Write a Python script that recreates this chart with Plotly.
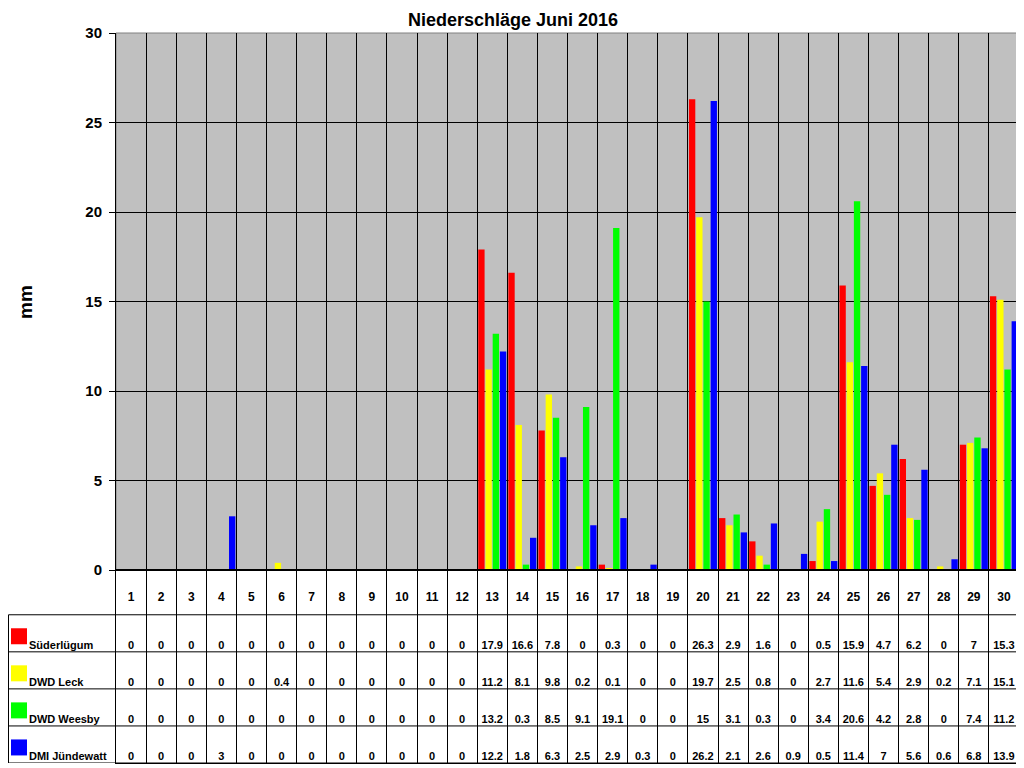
import plotly.graph_objects as go

days = [str(d) for d in range(1, 31)]

stations = ["Süderlügum", "DWD Leck", "DWD Weesby", "DMI Jündewatt"]
colors = ["#FF0000", "#FFFF00", "#00FF00", "#0000FF"]

suederluegum = [0, 0, 0, 0, 0, 0, 0, 0, 0, 0, 0, 0, 17.9, 16.6, 7.8, 0, 0.3, 0, 0, 26.3,
                2.9, 1.6, 0, 0.5, 15.9, 4.7, 6.2, 0, 7, 15.3]
leck = [0, 0, 0, 0, 0, 0.4, 0, 0, 0, 0, 0, 0, 11.2, 8.1, 9.8, 0.2, 0.1, 0, 0, 19.7,
        2.5, 0.8, 0, 2.7, 11.6, 5.4, 2.9, 0.2, 7.1, 15.1]
weesby = [0, 0, 0, 0, 0, 0, 0, 0, 0, 0, 0, 0, 13.2, 0.3, 8.5, 9.1, 19.1, 0, 0, 15,
          3.1, 0.3, 0, 3.4, 20.6, 4.2, 2.8, 0, 7.4, 11.2]
juendewatt = [0, 0, 0, 3, 0, 0, 0, 0, 0, 0, 0, 0, 12.2, 1.8, 6.3, 2.5, 2.9, 0.3, 0, 26.2,
              2.1, 2.6, 0.9, 0.5, 11.4, 7, 5.6, 0.6, 6.8, 13.9]

series = [suederluegum, leck, weesby, juendewatt]

# the page body has an 8px margin, so the figure is drawn at (8, 8)
OFF = 8
W, H = 1024 - OFF, 768 - OFF
FONT = "Liberation Sans, Arial, sans-serif"


def px(x):
    return (x - OFF) / W


def py(y):
    return 1 - (y - OFF) / H


fig = go.Figure()

# bars
for name, color, vals in zip(stations, colors, series):
    fig.add_trace(go.Bar(x=days, y=vals, name=name, marker=dict(color=color, line=dict(width=0)),
                         xaxis="x", yaxis="y", showlegend=False))

# data table below the chart
row_h = 37.0
header_h = 44.7
top_row = len(stations)
fig.add_trace(go.Scatter(x=days, y=[top_row + 0.45] * len(days), text=days,
                         mode="text", textfont=dict(family=FONT, size=12, color="black", weight="bold"),
                         xaxis="x2", yaxis="y2", showlegend=False, hoverinfo="skip"))
for i, (name, color, vals) in enumerate(zip(stations, colors, series)):
    row = top_row - 1 - i
    fig.add_trace(go.Scatter(x=days, y=[row + 0.15] * len(days), text=[f"{v:g}" for v in vals],
                             mode="text", textfont=dict(family=FONT, size=11, color="black", weight="bold"),
                             xaxis="x2", yaxis="y2", showlegend=False, hoverinfo="skip"))
    # legend key in the left column
    fig.add_trace(go.Scatter(x=[19], y=[row + 0.42], mode="markers",
                             marker=dict(symbol="square", size=16, color=color, line=dict(width=0)),
                             xaxis="x3", yaxis="y2", showlegend=False, hoverinfo="skip"))
    fig.add_trace(go.Scatter(x=[29], y=[row + 0.15], text=[name], mode="text", textposition="middle right",
                             textfont=dict(family=FONT, size=11, color="black", weight="bold"),
                             xaxis="x3", yaxis="y2", showlegend=False, hoverinfo="skip"))

shapes = [
    dict(type="rect", xref="x domain", yref="y domain", x0=0, x1=1, y0=0, y1=1,
         fillcolor="#C0C0C0", line=dict(color="#808080", width=1), layer="below"),
]
for k in range(top_row + 1):
    shapes.append(dict(type="line", xref="paper", yref="y2", x0=px(8.5), x1=px(1019), y0=k, y1=k,
                       line=dict(color="black", width=1)))
shapes.append(dict(type="line", xref="paper", yref="y2", x0=px(8.5), x1=px(8.5), y0=0, y1=top_row,
                   line=dict(color="black", width=1)))

xrange = [-0.5, len(days) - 0.5]

fig.update_layout(
    width=W, height=H,
    margin=dict(l=0, r=0, t=0, b=0, autoexpand=False),
    paper_bgcolor="white", plot_bgcolor="rgba(0,0,0,0)",
    barmode="group", bargap=0.04, bargroupgap=0.12,
    font=dict(family=FONT, color="black"),
    title=dict(text="Niederschläge Juni 2016", x=px(513), y=py(20), xanchor="center", yanchor="middle",
               font=dict(family=FONT, size=18, color="black", weight="bold")),
    xaxis=dict(type="category", domain=[px(116), px(1019)], anchor="y", tickson="boundaries",
               range=xrange, showgrid=True, gridcolor="black", gridwidth=1, showticklabels=False,
               ticks="", showline=True, linecolor="black", linewidth=1, automargin=False),
    yaxis=dict(domain=[py(570), py(33)], range=[0, 30], dtick=5, showgrid=True, gridcolor="black",
               gridwidth=1, ticks="outside", ticklen=6, tickcolor="black", showline=True,
               linecolor="black", linewidth=1, zeroline=False, ticklabelstandoff=4, automargin=False,
               tickfont=dict(family=FONT, size=15, color="black", weight="bold")),
    xaxis2=dict(type="category", domain=[px(116), px(1019)], anchor="y2", matches="x",
                tickson="boundaries", showgrid=True, gridcolor="black", gridwidth=1, automargin=False,
                showticklabels=False, ticks="", showline=True, mirror=True, linecolor="black"),
    yaxis2=dict(domain=[py(763), py(570)], range=[0, top_row + header_h / row_h], showgrid=False,
                showticklabels=False, ticks="", zeroline=False, showline=True, mirror=True,
                linecolor="black", automargin=False),
    xaxis3=dict(domain=[px(8), px(116)], range=[8, 116], anchor="y2", visible=False, automargin=False),
    shapes=shapes,
    annotations=[dict(text="mm", x=px(25), y=py(302), xref="paper", yref="paper", textangle=-90,
                      xanchor="center", yanchor="middle", showarrow=False,
                      font=dict(family=FONT, size=19, color="black", weight="bold"))],
)

fig.write_html("out.html")
